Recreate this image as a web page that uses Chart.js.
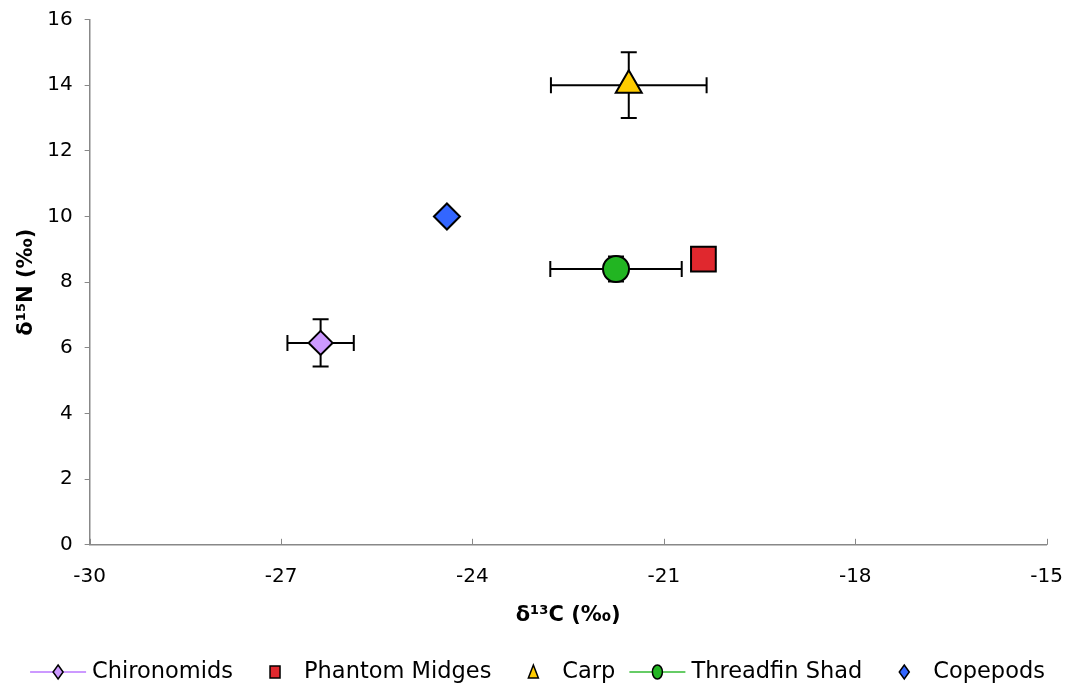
<!DOCTYPE html>
<html><head><meta charset="utf-8">
<script src="https://cdn.jsdelivr.net/npm/chart.js@4/dist/chart.umd.min.js"></script>
<style>html,body{margin:0;padding:0;background:#fff}#wrap{width:1075px;height:687px}</style>
</head><body><div id="wrap"><canvas id="c" width="1075" height="687"></canvas></div>
<script>
const seriesNames = ['Chironomids','Phantom Midges','Carp','Threadfin Shad','Copepods'];
const xValues = [-26.38, -20.38, -21.55, -21.75, -24.4];
const yValues = [6.15, 8.7, 14.0, 8.4, 10.0];
const xErrors = [0.52, 0, 1.22, 1.03, 0];
const yErrors = [0.72, 0, 1.0, 0.38, 0];
const xTicks = [-30,-27,-24,-21,-18,-15];
const yTicks = [0,2,4,6,8,10,12,14,16];

const fills = ['#CC99FF','#E0282E','#FFCC00','#22B522','#3366FF'];
const styles = ['rectRot','rect','triangle','circle','rectRot'];
const radii = [12, 17.5, 15, 13, 13];
const legendLine = [true,false,false,true,false];
const lineColors = ['#CC99FF',null,null,'#66CC66',null];

const fam = '"DejaVu Sans", Verdana, sans-serif';

function drawLegendMarker(g, i, cx, cy){
  g.fillStyle = fills[i]; g.strokeStyle = '#000'; g.lineWidth = 1.5;
  g.beginPath();
  if (styles[i]==='rectRot'){ g.moveTo(cx,cy-7); g.lineTo(cx+5,cy); g.lineTo(cx,cy+7); g.lineTo(cx-5,cy); g.closePath(); }
  else if (styles[i]==='rect'){ g.rect(cx-5,cy-6,10,12); }
  else if (styles[i]==='triangle'){ g.moveTo(cx,cy-7); g.lineTo(cx+5,cy+6); g.lineTo(cx-5,cy+6); g.closePath(); }
  else { g.ellipse(cx,cy,5,7,0,0,Math.PI*2); }
  g.fill(); g.stroke();
}

const customLegend = {
  id: 'customLegend',
  afterDraw(chart){
    const ctx = chart.ctx;
    ctx.save();
    ctx.font = '22.5px ' + fam;
    ctx.textBaseline = 'middle'; ctx.textAlign = 'left';
    const toNext = 42, half = 28;
    const toText = seriesNames.map((n,i) => legendLine[i] ? 34 : 29);
    const widths = seriesNames.map(n => ctx.measureText(n).width);
    const total = half + widths.reduce((a,w,i)=>a + toText[i] + w, 0) + toNext*(seriesNames.length-1);
    let x = (chart.width - total)/2 + half;
    const cy = 672;
    seriesNames.forEach((n,i)=>{
      if (legendLine[i]) { ctx.strokeStyle = lineColors[i]; ctx.lineWidth = 2; ctx.beginPath(); ctx.moveTo(x-half,cy); ctx.lineTo(x+half,cy); ctx.stroke(); }
      drawLegendMarker(ctx, i, x, cy);
      ctx.fillStyle = '#000';
      ctx.fillText(n, x + toText[i], cy);
      x += toText[i] + widths[i] + toNext;
    });
    ctx.restore();
  }
};

const datasets = seriesNames.map((n,i)=>({
  label: n,
  data: [{x: xValues[i], y: yValues[i], xe: xErrors[i], ye: yErrors[i]}],
  pointStyle: styles[i], pointRadius: radii[i], pointHoverRadius: radii[i],
  backgroundColor: fills[i], borderColor: '#000', pointBorderWidth: 2
}));

const errorBars = {
  id: 'errorBars',
  beforeDatasetsDraw(chart){
    const {ctx, scales:{x, y}} = chart;
    ctx.save(); ctx.strokeStyle = '#000'; ctx.lineWidth = 2;
    ctx.save(); ctx.strokeStyle = '#888'; ctx.lineWidth = 1;
    x.ticks.forEach(t => { const px = Math.round(x.getPixelForValue(t.value)) + 0.5;
      ctx.beginPath(); ctx.moveTo(px, chart.chartArea.bottom); ctx.lineTo(px, chart.chartArea.bottom - 6); ctx.stroke(); });
    ctx.restore();
    chart.data.datasets.forEach(ds => ds.data.forEach(p => {
      const px = x.getPixelForValue(p.x), py = y.getPixelForValue(p.y);
      const cap = 8;
      if (p.xe) {
        const l = x.getPixelForValue(p.x - p.xe), r = x.getPixelForValue(p.x + p.xe);
        ctx.beginPath(); ctx.moveTo(l,py); ctx.lineTo(r,py);
        ctx.moveTo(l,py-cap); ctx.lineTo(l,py+cap); ctx.moveTo(r,py-cap); ctx.lineTo(r,py+cap); ctx.stroke();
      }
      if (p.ye) {
        const t = y.getPixelForValue(p.y + p.ye), b = y.getPixelForValue(p.y - p.ye);
        ctx.beginPath(); ctx.moveTo(px,t); ctx.lineTo(px,b);
        ctx.moveTo(px-cap,t); ctx.lineTo(px+cap,t); ctx.moveTo(px-cap,b); ctx.lineTo(px+cap,b); ctx.stroke();
      }
    }));
    ctx.restore();
  }
};

const tickFont = {family: fam, size: 20};
new Chart(document.getElementById('c'), {
  type: 'scatter',
  data: {datasets},
  options: {
    responsive: false, animation: false,
    layout: {padding: {left: 14, right: 28, top: 3, bottom: 55}},
    plugins: {
      tooltip: {enabled: false},
      legend: {display: false}
    },
    scales: {
      x: {
        type: 'linear', min: -30, max: -15,
        afterBuildTicks(ax){ ax.ticks = xTicks.map(v=>({value:v})); },
        grid: {display: false},
        border: {color: '#888', width: 1.5},
        ticks: {font: tickFont, color: '#000', padding: 12},
        title: {display: true, text: 'δ¹³C (‰)', font: {family: fam, size: 21, weight: 'bold'}, color: '#000', padding: {top: 2, bottom: 4}}
      },
      y: {
        type: 'linear', min: 0, max: 16,
        afterBuildTicks(ax){ ax.ticks = yTicks.map(v=>({value:v})); },
        afterFit(ax){ ax.paddingTop = 18; },
        grid: {display: true, drawOnChartArea: false, drawTicks: true, tickLength: 5, color: '#888'},
        border: {color: '#888', width: 1.5},
        ticks: {font: tickFont, color: '#000', padding: 12},
        title: {display: true, text: 'δ¹⁵N (‰)', font: {family: fam, size: 21, weight: 'bold'}, color: '#000', padding: {top: 0, bottom: -4}}
      }
    }
  },
  plugins: [errorBars, customLegend]
});
</script></body></html>
